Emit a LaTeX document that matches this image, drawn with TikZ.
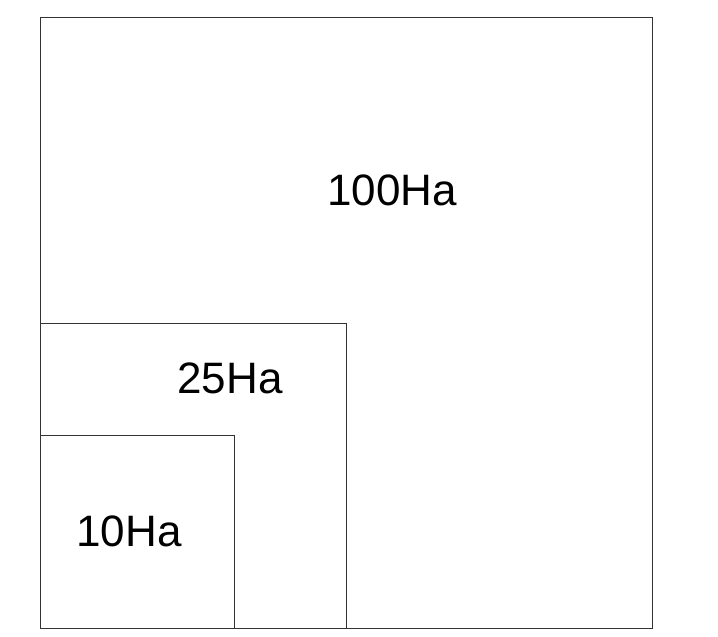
\documentclass[tikz,border=0pt]{standalone}
\usepackage{fontspec}
\setmainfont{Liberation Sans}
\begin{document}
\begin{tikzpicture}[x=1pt,y=-1pt,
  area/.style={draw=black!80,line width=1pt},
  lbl/.style={font=\fontsize{44}{48}\selectfont,inner sep=0pt,anchor=base}]
\useasboundingbox (0,0) rectangle (718,637);
\draw[area] (40,17) rectangle (652,628);
\draw[area] (40,323) rectangle (346,628);
\draw[area] (40,435) rectangle (234,628);
\node[lbl] (big) at (392,205) {100Ha};
\node[lbl] (mid) at (230,393) {25Ha};
\node[lbl] (small) at (129,546) {10Ha};
\end{tikzpicture}
\end{document}
